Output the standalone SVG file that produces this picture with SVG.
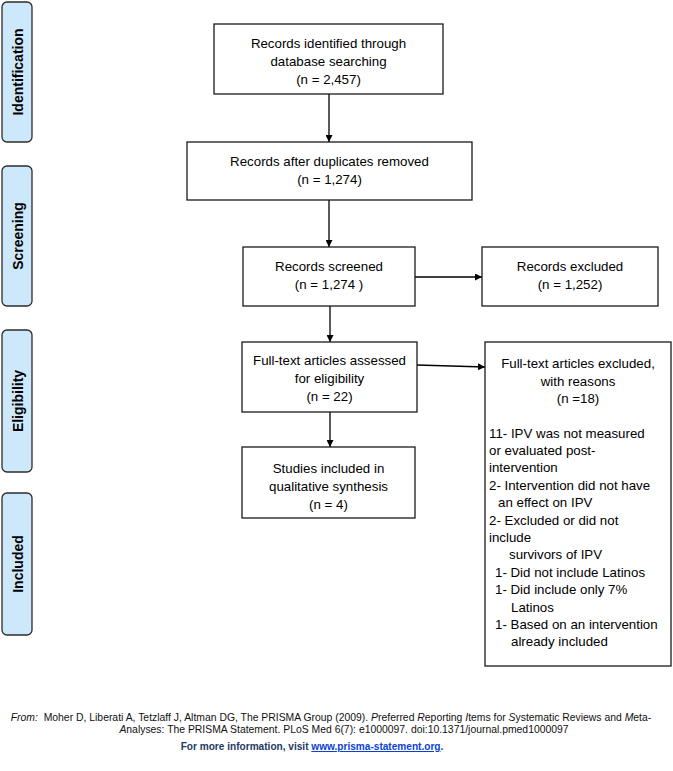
<svg xmlns="http://www.w3.org/2000/svg" width="673" height="771" viewBox="0 0 673 771">
<defs>
<marker id="ah" viewBox="0 0 10 10" refX="10" refY="5" markerWidth="7" markerHeight="7" markerUnits="userSpaceOnUse" orient="auto">
<path d="M0,0 L10,5 L0,10 z" fill="#000"/>
</marker>
<style>
.stage{fill:#cde8fb;stroke:#2b2b2b;stroke-width:1.3}
.st{font-family:"Liberation Sans",Arial,sans-serif;font-weight:bold;font-size:14px;fill:#000;text-anchor:middle}
.box{fill:#fff;stroke:#1a1a1a;stroke-width:1.3}
.t{font-family:"Liberation Sans",Arial,sans-serif;font-size:13.3px;fill:#000;text-anchor:middle}
.l{font-family:"Liberation Sans",Arial,sans-serif;font-size:13.3px;fill:#000}
.c{stroke:#000;stroke-width:1.3;fill:none;marker-end:url(#ah)}
.f{font-family:"Liberation Sans",Arial,sans-serif;font-size:10.4px;fill:#111;text-anchor:middle}
.i{font-style:italic}
.fb{font-family:"Liberation Sans",Arial,sans-serif;font-size:10.1px;font-weight:bold;fill:#1f3864;text-anchor:middle}
</style>
</defs>
<rect width="673" height="771" fill="#fff"/>

<g id="stage-identification"><rect class="stage" x="2" y="2" width="30" height="140" rx="5"/><text class="st" transform="translate(22.5,72) rotate(-90)">Identification</text></g>
<g id="stage-screening"><rect class="stage" x="2" y="166" width="30" height="140" rx="5"/><text class="st" transform="translate(22.5,236) rotate(-90)">Screening</text></g>
<g id="stage-eligibility"><rect class="stage" x="2" y="330" width="30" height="142" rx="5"/><text class="st" transform="translate(22.5,401) rotate(-90)">Eligibility</text></g>
<g id="stage-included"><rect class="stage" x="2" y="493" width="30" height="142" rx="5"/><text class="st" transform="translate(22.5,564) rotate(-90)">Included</text></g>

<g id="connectors">
<line class="c" x1="329" y1="94" x2="329" y2="142"/>
<line class="c" x1="329" y1="200" x2="329" y2="247"/>
<line class="c" x1="415" y1="277" x2="482" y2="277"/>
<line class="c" x1="330" y1="306" x2="330" y2="342"/>
<line class="c" x1="417" y1="365" x2="485" y2="367"/>
<line class="c" x1="330" y1="412" x2="330" y2="447"/>
</g>

<g id="identified"><rect class="box" x="214" y="24" width="229" height="70"/>
<text class="t" x="328.5" y="48">Records identified through</text>
<text class="t" x="328.5" y="66">database searching</text>
<text class="t" x="328.5" y="84">(n = 2,457)</text></g>

<g id="dedup"><rect class="box" x="187" y="142" width="285" height="58"/>
<text class="t" x="329.5" y="166">Records after duplicates removed</text>
<text class="t" x="329.5" y="184">(n = 1,274)</text></g>

<g id="screened"><rect class="box" x="243" y="247" width="172" height="59"/>
<text class="t" x="329" y="271">Records screened</text>
<text class="t" x="329" y="288.5">(n = 1,274 )</text></g>

<g id="excluded"><rect class="box" x="482" y="247" width="176" height="59"/>
<text class="t" x="570" y="271">Records excluded</text>
<text class="t" x="570" y="288.5">(n = 1,252)</text></g>

<g id="fulltext"><rect class="box" x="242" y="342" width="175" height="70"/>
<text class="t" x="329.5" y="364.5">Full-text articles assessed</text>
<text class="t" x="329.5" y="382.5">for eligibility</text>
<text class="t" x="329.5" y="401">(n = 22)</text></g>

<g id="included"><rect class="box" x="242" y="447" width="173" height="71"/>
<text class="t" x="328.5" y="472.5">Studies included in</text>
<text class="t" x="328.5" y="490.5">qualitative synthesis</text>
<text class="t" x="328.5" y="508.5">(n = 4)</text></g>

<g id="fulltext-excluded"><rect class="box" x="485" y="342" width="186" height="324"/>
<text class="t" x="578" y="367.5">Full-text articles excluded,</text>
<text class="t" x="578" y="385.5">with reasons</text>
<text class="t" x="578" y="402.5">(n =18)</text>
<text class="l" x="489" y="437.5">11- IPV was not measured</text>
<text class="l" x="489" y="454.9">or evaluated post-</text>
<text class="l" x="489" y="472.3">intervention</text>
<text class="l" x="489" y="489.7">2- Intervention did not have</text>
<text class="l" x="498" y="507.1">an effect on IPV</text>
<text class="l" x="489" y="524.5">2- Excluded or did not</text>
<text class="l" x="489" y="541.9">include</text>
<text class="l" x="509" y="559.3">survivors of IPV</text>
<text class="l" x="495" y="576.7">1- Did not include Latinos</text>
<text class="l" x="495" y="594.1">1- Did include only 7%</text>
<text class="l" x="511" y="611.5">Latinos</text>
<text class="l" x="495" y="628.9">1- Based on an intervention</text>
<text class="l" x="511" y="646.3">already included</text></g>

<text class="f" x="331" y="721" xml:space="preserve"><tspan class="i">From:</tspan>  Moher D, Liberati A, Tetzlaff J, Altman DG, The PRISMA Group (2009). <tspan class="i">P</tspan>referred <tspan class="i">R</tspan>eporting <tspan class="i">I</tspan>tems for <tspan class="i">S</tspan>ystematic Reviews and <tspan class="i">M</tspan>eta-</text>
<text class="f" x="344" y="733"><tspan class="i">A</tspan>nalyses: The PRISMA Statement. PLoS Med 6(7): e1000097. doi:10.1371/journal.pmed1000097</text>
<text class="fb" x="312" y="750">For more information, visit <tspan fill="#0b3fd6" text-decoration="underline">www.prisma-statement.org</tspan>.</text>
</svg>
